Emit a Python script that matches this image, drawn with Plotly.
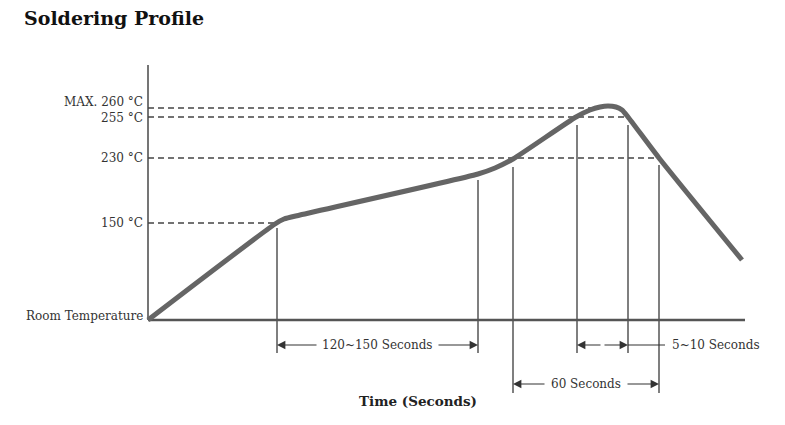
import plotly.graph_objects as go

# schematic units: x = time position along axis, y = height above room temperature
curve_x = [0, 127, 136, 152, 330, 347, 365, 428, 442, 452, 460, 468, 474, 480, 511, 594]
curve_y = [0, 96, 101, 105, 146, 152, 161, 203, 210, 213, 214, 213, 210, 203, 162, 60]

level_labels = ["Room Temperature", "150 °C", "230 °C", "255 °C", "MAX. 260 °C"]
level_y = [0, 97, 162, 203, 212]
level_end = [0, 129, 511, 482, 450]
label_shift = [4, 0, 0, -1, 6]

marker_x = [129, 330, 365, 429, 480, 511]
marker_top = [92, 140, 153, 195, 195, 155]
marker_bottom = [-33, -33, -73, -33, -33, -73]

span_labels = ["120~150 Seconds", "", "60 Seconds"]
span_start = [129, 429, 365]
span_end = [330, 480, 511]
span_y = [-25, -25, -64]
span_gap = [41, 25, 33]

side_label = "5~10 Seconds"

serif = "DejaVu Serif"
ink = "#333333"

fig = go.Figure()

# axes
fig.add_trace(go.Scatter(x=[0, 0], y=[0, 255], mode="lines",
                         line=dict(color="#666666", width=1.8), hoverinfo="skip"))
fig.add_trace(go.Scatter(x=[0, 597], y=[0, 0], mode="lines",
                         line=dict(color="#555555", width=2.5), hoverinfo="skip"))

# dashed temperature levels
for lab, ly, le, sh in zip(level_labels, level_y, level_end, label_shift):
    if le > 0:
        fig.add_trace(go.Scatter(x=[0, le], y=[ly, ly], mode="lines",
                                 line=dict(color="#444444", width=1.4, dash="6px,4px"),
                                 hoverinfo="skip"))
    fig.add_annotation(x=-3, y=ly, yshift=sh, text=lab, showarrow=False, xanchor="right",
                       yanchor="middle", font=dict(family=serif, size=12, color=ink))

# vertical time markers
for mx, mt, mb in zip(marker_x, marker_top, marker_bottom):
    fig.add_trace(go.Scatter(x=[mx, mx], y=[mb, mt], mode="lines",
                             line=dict(color="#555555", width=1.5), hoverinfo="skip"))

# profile curve
fig.add_trace(go.Scatter(x=curve_x, y=curve_y, mode="lines",
                         line=dict(color="#656565", width=5, shape="spline", smoothing=0.6),
                         hoverinfo="skip"))

# dimension arrows
for lab, s0, s1, sy, g in zip(span_labels, span_start, span_end, span_y, span_gap):
    for head, tail in [(s0, s0 + g), (s1, s1 - g)]:
        fig.add_annotation(x=head, y=sy, ax=tail, ay=sy, axref="x", ayref="y",
                           text="", showarrow=True, arrowhead=2, arrowsize=1.4,
                           arrowwidth=1.2, arrowcolor=ink, standoff=0, startstandoff=0)
    if lab:
        fig.add_annotation(x=(s0 + s1) / 2, y=sy, text=lab, showarrow=False,
                           font=dict(family=serif, size=12, color=ink))

fig.add_trace(go.Scatter(x=[480, 517], y=[-25, -25], mode="lines",
                         line=dict(color=ink, width=1.2), hoverinfo="skip"))
fig.add_annotation(x=522, y=-25, text=side_label, showarrow=False, xanchor="left",
                   font=dict(family=serif, size=12, color=ink))

fig.add_annotation(x=270, y=-81, text="<b>Time (Seconds)</b>", showarrow=False,
                   font=dict(family=serif, size=13.5, color="#222222"))

# the page body adds an 8px margin, so the figure is sized to the rest of the window
fig.update_layout(
    width=777, height=417,
    margin=dict(l=0, r=0, t=0, b=0),
    paper_bgcolor="white", plot_bgcolor="white",
    showlegend=False,
    title=dict(text="<b>Soldering Profile</b>", x=16 / 777, xanchor="left", y=1 - 10 / 417,
               yanchor="middle", font=dict(family=serif, size=19, color="#111111")),
    xaxis=dict(range=[-140, 637], visible=False, fixedrange=True),
    yaxis=dict(range=[-105, 312], visible=False, fixedrange=True),
)

fig.write_html("out.html")
